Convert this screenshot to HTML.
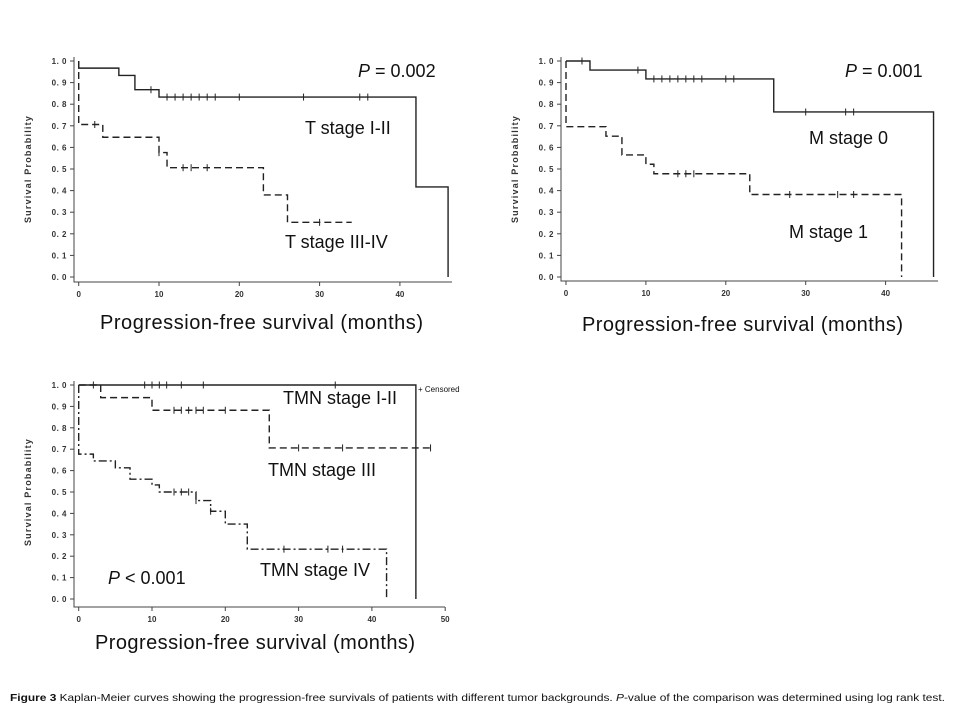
<!DOCTYPE html>
<html><head><meta charset="utf-8"><style>
html,body{margin:0;padding:0;background:#fff;}
svg{display:block;font-family:"Liberation Sans",sans-serif;}
</style></head><body>
<svg id="s" width="978" height="720" xmlns="http://www.w3.org/2000/svg"></svg>
<script>
const S=document.getElementById('s');let h='';
function panel(p){
 const X=t=>p.x0+t*p.xs, Y=v=>p.y0-(p.y0-p.y1)*v;
 h+=`<path d="M${p.l} ${p.y1-4}V${p.b}H${p.r}" fill="none" stroke="#444" stroke-width="1"/>`;
 for(let i=0;i<=10;i++){const y=Y(i/10);h+=`<line x1="${p.l-4}" x2="${p.l}" y1="${y}" y2="${y}" stroke="#444"/><text x="${p.l-7}" y="${y+3}" font-size="8" font-weight="bold" fill="#333" text-anchor="end" letter-spacing="0.5">${(i/10).toFixed(1).replace('.', '. ')}</text>`;}
 for(let t=0;t<=p.tmax;t+=10){const x=X(t);h+=`<line x1="${x}" x2="${x}" y1="${p.b}" y2="${p.b+4}" stroke="#444"/><text x="${x}" y="${p.b+15}" font-size="8" font-weight="bold" fill="#333" text-anchor="middle">${t}</text>`;}
 h+=`<text transform="translate(${p.l-43},${(p.y0+p.y1)/2}) rotate(-90)" font-size="9" font-weight="bold" fill="#333" text-anchor="middle" letter-spacing="1.2">Survival  Probability</text>`;
 for(const c of p.curves){
  let d=`M${X(0)} ${Y(c.start)}`;
  for(const [t,v] of c.steps){d+=`H${X(t)}V${Y(v)}`;}
  d+=`H${X(c.end)}`;
  h+=`<path d="${d}" fill="none" stroke="#222" stroke-width="1.4" stroke-dasharray="${c.dash}"/>`;
  for(const [t,v] of c.cens){h+=`<path d="M${X(t)} ${Y(v)-3.5}v7" stroke="#222" stroke-width="1"/>`;}
 }
}
// Panel 1
panel({x0:78.7,xs:8.03,y0:277,y1:61,l:74,b:282,r:452,tmax:40,curves:[
 {start:1,steps:[[0,0.967],[5,0.933],[7,0.867],[10,0.833],[42,0.417],[46,0]],end:46,dash:"none",
  cens:[[9,.867],[11,.833],[12,.833],[13,.833],[14,.833],[15,.833],[16,.833],[17,.833],[20,.833],[28,.833],[35,.833],[36,.833]]},
 {start:1,steps:[[0,0.706],[3,0.647],[10,0.576],[11,0.506],[23,0.38],[26,0.253]],end:34,dash:"7 4",
  cens:[[2,.706],[10,.576],[13,.506],[14,.506],[16,.506],[30,.253]]}]});
// Panel 2
panel({x0:566,xs:7.99,y0:277,y1:61,l:561,b:281,r:938,tmax:40,curves:[
 {start:1,steps:[[3,0.958],[10,0.917],[26,0.764],[46,0]],end:46,dash:"none",
  cens:[[2,1],[9,.958],[11,.917],[12,.917],[13,.917],[14,.917],[15,.917],[16,.917],[17,.917],[20,.917],[21,.917],[30,.764],[35,.764],[36,.764]]},
 {start:1,steps:[[0,0.696],[5,0.652],[7,0.565],[10,0.522],[11,0.478],[23,0.382],[42,0]],end:42,dash:"7 4",
  cens:[[14,.478],[15,.478],[16,.478],[28,.382],[34,.382],[36,.382]]}]});
// Panel 3
panel({x0:78.7,xs:7.33,y0:599,y1:385,l:74,b:607,r:445,tmax:50,curves:[
 {start:1,steps:[[46,0]],end:46,dash:"none",cens:[[2,1],[9,1],[10,1],[11,1],[12,1],[14,1],[17,1],[35,1]]},
 {start:1,steps:[[3,0.941],[10,0.882],[26,0.706]],end:48,dash:"7 4",
  cens:[[13,.882],[14,.882],[15,.882],[16,.882],[17,.882],[20,.882],[30,.706],[36,.706],[48,.706]]},
 {start:1,steps:[[0,0.677],[2,0.645],[5,0.613],[7,0.56],[10,0.533],[11,0.5],[16,0.46],[18,0.41],[20,0.35],[23,0.233],[42,0]],end:42,dash:"8 3 2 3",
  cens:[[13,.5],[14,.5],[15,.5],[16,.46],[18,.41],[28,.233],[34,.233],[36,.233]]}]});
const T=(x,y,s,txt,fs,extra='')=>{h+=`<text x="${x}" y="${y}" font-size="${fs}" fill="#111" ${extra}>${txt}</text>`;};
T(358,77,'','<tspan font-style="italic">P</tspan> = 0.002',18);
T(305,134,'','T stage I-II',18);
T(285,248,'','T stage III-IV',18);
T(100,329,'','Progression-free survival (months)',20,'textLength="323"');
T(845,77,'','<tspan font-style="italic">P</tspan> = 0.001',18);
T(809,144,'','M stage 0',18);
T(789,238,'','M stage 1',18);
T(582,331,'','Progression-free survival (months)',20,'textLength="321"');
T(283,404,'','TMN stage I-II',18);
T(268,476,'','TMN stage III',18);
T(260,576,'','TMN stage IV',18);
T(108,584,'','<tspan font-style="italic">P</tspan> &lt; 0.001',18);
T(418,392,'','+ Censored',8,'fill="#555"');
T(95,649,'','Progression-free survival (months)',20,'textLength="320"');
T(10,701,'','<tspan font-weight="bold">Figure 3</tspan> Kaplan-Meier curves showing the progression-free survivals of patients with different tumor backgrounds. <tspan font-style="italic">P</tspan>-value of the comparison was determined using log rank test.',10.5,'textLength="935" lengthAdjust="spacingAndGlyphs"');
S.innerHTML=h;
</script>
</body></html>
